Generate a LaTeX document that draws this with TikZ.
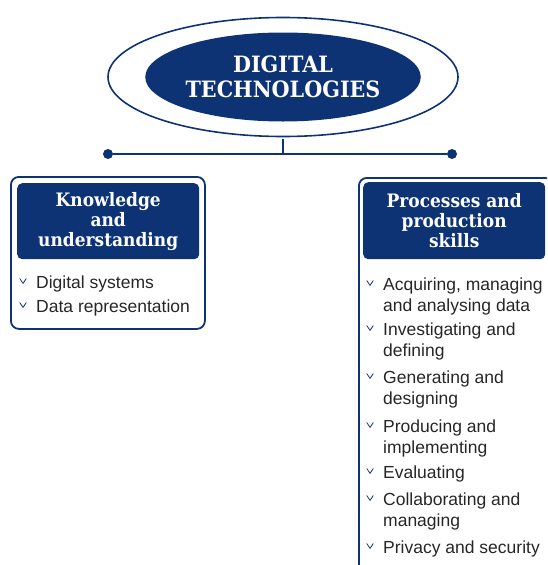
\documentclass[tikz,border=0pt]{standalone}
\usepackage{fontspec}
\setmainfont{Liberation Sans}
\newfontfamily\slab[FakeStretch=0.92]{DejaVu Serif}
\usetikzlibrary{shapes.geometric}
\definecolor{navy}{RGB}{14,51,117}
\tikzset{
  x=1pt, y=-1pt,
  outerbox/.style={draw=navy, line width=1.8pt, rounded corners=8pt, anchor=north west, inner sep=0pt},
  headbox/.style={fill=navy, rounded corners=5pt, anchor=north west, inner sep=0pt, text=white, align=center,
     font=\slab\bfseries\fontsize{18.5}{20}\selectfont},
  itemtext/.style={anchor=north west, inner sep=0pt, align=left, text=black!85,
     font=\fontsize{17.5}{21}\selectfont},
  chev/.pic={\draw[navy, line width=0.8pt, line cap=round, line join=round] (-3.2,-2.4) -- (0,2.4) -- (3.2,-2.4);},
  dot/.style={circle, fill=navy, minimum size=10pt, inner sep=0pt},
  conn/.style={draw=navy, line width=1.6pt}
}
\begin{document}
\begin{tikzpicture}
\useasboundingbox (0,0) rectangle (547,565);
\begin{scope}
\clip (0,0) rectangle (547,565);
% central ellipses
\node[ellipse, draw=navy, line width=1.6pt, minimum width=350pt, minimum height=119pt, inner sep=0pt] (outer) at (283,77) {};
\node[ellipse, fill=navy, minimum width=266pt, minimum height=89pt, inner sep=0pt, text=white, align=center,
  font=\slab\bfseries\fontsize{22.5}{25}\selectfont] (title) at (283,77) {DIGITAL\\TECHNOLOGIES};
% connector
\coordinate (hub) at (283,154);
\node[dot] (ldot) at (108,154) {};
\node[dot] (rdot) at (452,154) {};
\draw[conn] (outer.south) ++(0,2) -- (hub);
\draw[conn] (ldot) -- (rdot);
% left box
\node[outerbox, minimum width=194pt, minimum height=152pt] (lbox) at (10,176) {};
\node[headbox, minimum width=182pt, minimum height=76pt] (lhead) at (17,183) {Knowledge\\and\\understanding};
\pic at (23,281) {chev};
\node[itemtext] (l1) at (36,276) {Digital systems};
\pic at (23,305) {chev};
\node[itemtext] (l2) at (36,300) {Data representation};
% right box
\node[outerbox, minimum width=194pt, minimum height=400pt] (rbox) at (358,177) {};
\node[headbox, minimum width=182pt, minimum height=77pt] (rhead) at (363,182) {Processes and\\production\\skills};
\pic at (370,283) {chev};
\node[itemtext] (r1) at (383,278) {Acquiring, managing\\and analysing data};
\pic at (370,328) {chev};
\node[itemtext] (r2) at (383,323) {Investigating and\\defining};
\pic at (370,376) {chev};
\node[itemtext] (r3) at (383,371) {Generating and\\designing};
\pic at (370,425) {chev};
\node[itemtext] (r4) at (383,420) {Producing and\\implementing};
\pic at (370,471) {chev};
\node[itemtext] (r5) at (383,466) {Evaluating};
\pic at (370,498) {chev};
\node[itemtext] (r6) at (383,493) {Collaborating and\\managing};
\pic at (370,546) {chev};
\node[itemtext] (r7) at (383,541) {Privacy and security};
\end{scope}
\end{tikzpicture}
\end{document}
